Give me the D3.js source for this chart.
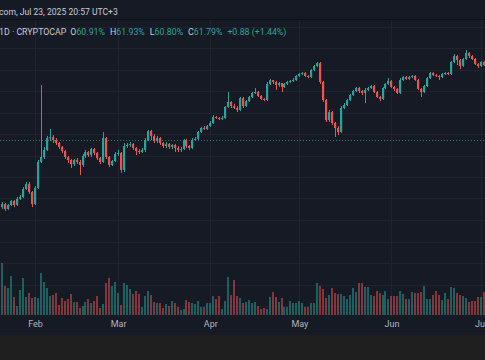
<!DOCTYPE html>
<html><head><meta charset="utf-8">
<script src="https://cdn.jsdelivr.net/npm/d3@7"></script>
<style>
html,body{margin:0;padding:0;background:#161a25;overflow:hidden}
svg{display:block}
text{font-family:Roboto,"Noto Sans",sans-serif}
</style></head>
<body>
<svg id="c" width="485" height="360"></svg>
<script>
// ---- data (BTC dominance, daily, from 2025-01-21) ----
const startDate = "2025-01-21";
const firstOpen = 58.60;
const closes = [58.74,58.51,58.70,58.88,58.70,58.98,59.07,59.44,59.67,59.30,58.74,59.49,60.70,60.93,61.26,61.81,61.86,61.72,61.58,61.40,
61.21,60.93,60.79,60.60,60.79,60.70,60.56,60.98,61.16,61.02,61.30,61.12,60.88,60.70,61.81,60.93,60.56,60.74,61.07,61.12,
60.33,61.44,61.49,61.53,61.35,61.21,61.16,61.26,61.72,62.14,61.91,61.67,61.81,61.58,61.44,61.53,61.40,61.49,61.35,61.26,
61.30,61.72,61.44,61.35,61.72,61.77,62.09,62.28,62.23,62.37,62.51,62.79,62.74,62.70,62.74,63.26,63.49,63.30,63.21,63.12,
63.67,63.30,63.53,63.72,63.91,63.95,63.77,63.63,63.58,64.33,64.51,64.42,64.28,64.37,64.19,64.33,64.42,64.47,64.51,64.70,
64.79,64.84,64.70,64.65,64.98,65.16,65.30,64.42,63.58,62.65,63.02,62.51,62.28,62.09,63.21,63.35,63.58,63.81,64.00,64.14,
64.00,63.91,64.05,64.14,64.23,63.95,63.72,63.63,64.14,64.33,64.47,64.19,64.09,63.91,64.51,64.65,64.56,64.65,64.70,64.51,
64.09,63.95,64.23,64.60,64.84,64.74,64.70,64.65,64.79,64.84,64.79,65.35,65.63,65.44,65.16,65.49,65.77,65.63,65.49,65.26,
65.16,65.35,65.21];
const highs = [58.84,58.79,58.74,58.93,58.93,59.07,59.16,59.53,59.77,59.77,59.35,59.58,60.79,64.28,61.40,61.91,62.23,61.95,61.81,61.63,
61.44,61.26,60.98,60.84,60.84,60.88,60.79,61.07,61.26,61.21,61.35,61.35,61.16,60.93,62.09,61.86,60.98,60.79,61.16,61.26,
61.16,61.58,61.58,61.63,61.58,61.40,61.30,61.35,61.81,62.19,62.19,62.00,61.91,61.86,61.63,61.63,61.58,61.53,61.53,61.44,
61.40,61.77,61.77,61.49,61.81,61.86,62.14,62.33,62.37,62.42,62.60,62.88,62.84,62.79,62.84,63.30,63.95,63.53,63.40,63.30,
63.72,63.72,63.58,63.77,63.95,64.14,64.00,63.81,63.67,64.42,64.56,64.51,64.47,64.42,64.37,64.37,64.47,64.51,64.60,64.74,
64.84,64.88,64.88,64.74,65.02,65.21,65.35,65.35,64.47,63.63,63.12,63.07,62.56,62.37,63.30,63.44,63.63,63.86,64.05,64.19,
64.19,64.05,64.14,64.19,64.28,64.28,64.00,63.77,64.19,64.37,64.60,64.51,64.23,64.14,64.60,64.70,64.70,64.70,64.74,64.74,
64.56,64.14,64.28,64.65,64.88,64.88,64.79,64.74,64.84,64.88,64.88,65.40,65.72,65.67,65.49,65.53,65.91,65.81,65.67,65.53,
65.30,65.40,65.40];
const lows = [58.51,58.42,58.47,58.65,58.60,58.65,58.93,59.02,59.40,59.21,58.60,58.70,59.44,60.65,60.84,61.21,61.67,61.58,61.49,61.30,
61.12,60.84,60.65,60.42,60.51,60.60,60.09,60.47,60.88,60.93,60.93,61.02,60.79,60.60,60.65,60.84,60.47,60.51,60.70,60.98,
60.19,60.23,61.35,61.40,61.26,61.02,61.07,61.12,61.16,61.67,61.72,61.58,61.58,61.49,61.35,61.35,61.30,61.30,61.16,61.16,
61.16,61.26,61.35,61.26,61.30,61.67,61.72,62.05,62.19,62.19,62.33,62.47,62.70,62.65,62.65,62.70,63.21,63.21,63.16,63.02,
63.07,63.21,63.26,63.49,63.67,63.86,63.72,63.58,63.53,63.53,64.28,64.33,64.05,64.19,63.95,64.14,64.28,64.37,64.42,64.47,
64.65,64.74,64.65,64.60,64.60,64.93,65.12,64.33,63.49,62.56,62.56,62.42,61.86,61.95,62.05,63.16,63.30,63.53,63.77,63.95,
63.91,63.81,63.44,64.00,64.09,63.91,63.67,63.53,63.58,64.09,64.28,64.14,64.00,63.86,63.86,64.47,64.51,64.51,64.60,64.47,
64.05,63.72,63.91,64.19,64.56,64.70,64.65,64.51,64.60,64.74,64.74,64.74,65.30,65.21,65.02,65.12,65.44,65.53,65.44,65.21,
65.07,65.12,65.16];
const volumes = [52,29,27,39,18,9,25,37,18,22,17,18,17,42,33,27,19,20,22,10,
17,14,16,21,13,13,7,9,13,16,12,14,19,7,11,32,37,29,33,22,
10,32,30,26,21,24,21,8,19,24,20,13,12,12,7,11,9,14,12,8,
5,6,15,13,12,11,14,8,8,12,12,19,16,19,6,14,38,20,35,19,
17,12,13,15,12,13,9,6,7,6,18,23,18,13,17,8,8,14,12,12,
14,12,8,8,12,12,32,29,26,17,20,27,22,21,21,19,16,20,27,23,
32,32,28,28,20,19,24,22,20,24,16,19,19,19,24,21,16,16,23,22,
22,23,29,16,16,20,24,20,15,22,16,28,27,22,20,19,17,13,14,14,
18,18,23];
const gridValues = [54,55,56,57,58,59,60,61,62,63,64,65,66,67];
const headerTitle = "com, Jul 23, 2025 20:57 UTC+3";
const legendSymbol = "1D · CRYPTOCAP";
const legendOHLC = [["O","60.91%"],["H","61.93%"],["L","60.80%"],["C","61.79%"]];
const legendChange = "+0.88 (+1.44%)";
const lastClose = 61.79;

// ---- build ----
const W = 485, H = 360;
const UP = "#26a69a", DOWN = "#ef5350";
const start = new Date(startDate + "T00:00:00Z");
const bars = closes.map((c, i) => {
  const o = i === 0 ? firstOpen : closes[i - 1];
  return {date: d3.utcDay.offset(start, i), o, h: highs[i], l: lows[i], c, v: volumes[i]};
});

const svg = d3.select("#c");
svg.append("rect").attr("width", W).attr("height", H).attr("fill", "#161a25");

const x = d3.scaleUtc()
  .domain([bars[0].date, bars[bars.length - 1].date])
  .range([2.33, 483.5]);
const y = d3.scaleLinear().domain([54, 66]).range([306, 48]);
const yv = d3.scaleLinear().domain([0, 55]).range([315, 260]);

const paneTop = 19, paneBot = 317;

// grid
const g = svg.append("g");
g.selectAll("line.h").data(gridValues).join("line")
  .attr("x1", 0).attr("x2", W)
  .attr("y1", d => Math.round(y(d)) + 0.5).attr("y2", d => Math.round(y(d)) + 0.5)
  .attr("stroke", "#1f2330").attr("stroke-width", 1)
  .attr("display", d => (y(d) > paneTop + 2 && y(d) < paneBot) ? null : "none");
const months = x.ticks(d3.utcMonth.every(1)).filter(d => d.getUTCDate() === 1);
g.selectAll("line.v").data(months).join("line")
  .attr("x1", d => Math.round(x(d)) + 0.5).attr("x2", d => Math.round(x(d)) + 0.5)
  .attr("y1", paneTop).attr("y2", paneBot)
  .attr("stroke", "#1f2330").attr("stroke-width", 1);

// volume
svg.append("g").selectAll("rect").data(bars).join("rect")
  .attr("x", d => Math.round(x(d.date) - 1))
  .attr("width", 2)
  .attr("y", d => yv(d.v))
  .attr("height", d => yv(0) - yv(d.v))
  .attr("fill", d => d.c >= d.o ? UP : DOWN)
  .attr("fill-opacity", 0.5);

// price line (dotted)
svg.append("line")
  .attr("x1", 0).attr("x2", W)
  .attr("y1", Math.round(y(lastClose)) + 1.5).attr("y2", Math.round(y(lastClose)) + 1.5)
  .attr("stroke", UP).attr("stroke-opacity", 0.7)
  .attr("stroke-dasharray", "1,2");

// candles
const cg = svg.append("g");
cg.selectAll("line").data(bars).join("line")
  .attr("x1", d => Math.round(x(d.date)) + 0.5)
  .attr("x2", d => Math.round(x(d.date)) + 0.5)
  .attr("y1", d => y(d.h)).attr("y2", d => y(d.l))
  .attr("stroke", d => d.c >= d.o ? UP : DOWN).attr("stroke-width", 1);
cg.selectAll("rect").data(bars).join("rect")
  .attr("x", d => Math.round(x(d.date) - 1))
  .attr("width", 2.2)
  .attr("y", d => y(Math.max(d.o, d.c)))
  .attr("height", d => Math.max(1, Math.abs(y(d.o) - y(d.c))))
  .attr("fill", d => d.c >= d.o ? UP : DOWN);

// time axis
const ax = svg.append("g").attr("transform", `translate(0,${paneBot})`)
  .call(d3.axisBottom(x).tickValues(months).tickFormat(d3.utcFormat("%b")).tickSize(0).tickPadding(4));
ax.select(".domain").remove();
ax.selectAll("text").attr("fill", "#b2b5be").attr("font-size", 9);

// bottom strip
svg.append("rect").attr("x", 0).attr("y", 335).attr("width", W).attr("height", H - 335).attr("fill", "#1f1f1f");

// header
svg.append("rect").attr("x", 0).attr("y", 0).attr("width", W).attr("height", paneTop).attr("fill", "#161a25");
svg.append("line").attr("x1", 0).attr("x2", W).attr("y1", paneTop + 0.5).attr("y2", paneTop + 0.5)
  .attr("stroke", "#0f121a");
svg.append("text").attr("x", -1).attr("y", 14.5).attr("fill", "#c9ccd4").attr("font-size", 8.6)
  .text(headerTitle);

const leg = svg.append("text").attr("x", -1).attr("y", 34.5).attr("font-size", 8.8).attr("fill", "#c9ccd4");
leg.append("tspan").text(legendSymbol);
legendOHLC.forEach(([k, v], i) => {
  leg.append("tspan").attr("dx", i === 0 ? 4 : 5).attr("fill", "#c9ccd4").text(k);
  leg.append("tspan").attr("fill", UP).text(v);
});
leg.append("tspan").attr("dx", 5).attr("fill", UP).text(legendChange);
</script>
</body></html>
